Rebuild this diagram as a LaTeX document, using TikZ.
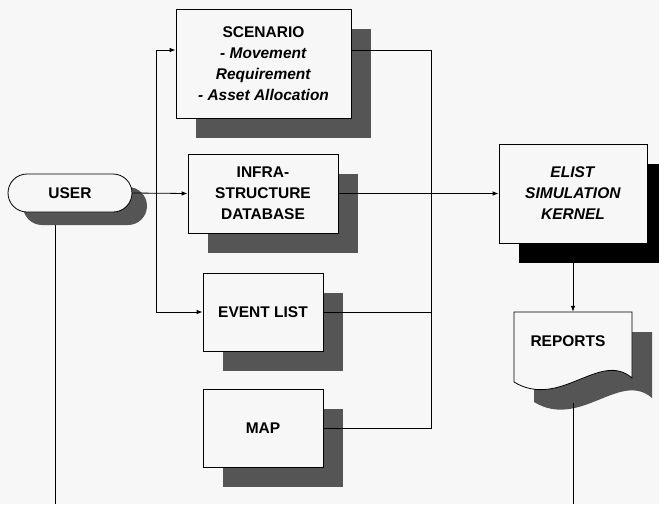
\documentclass[tikz,border=0pt]{standalone}
\usepackage{fontspec}
\setmainfont{Liberation Sans}
\usetikzlibrary{arrows.meta,shadows}
\definecolor{bg}{HTML}{F7F7F7}
\definecolor{shadowgray}{HTML}{555555}
\begin{document}
\begin{tikzpicture}[x=1pt,y=-1pt,
  every node/.style={font=\fontsize{15.5}{21}\selectfont\bfseries},
  box/.style={draw=black,line width=0.8pt,fill=bg,inner sep=0pt,align=center,
    general shadow={fill=shadowgray,shadow xshift=20pt,shadow yshift=-20pt}},
  blackbox/.style={draw=black,line width=0.8pt,fill=bg,inner sep=0pt,align=center,
    general shadow={fill=black,shadow xshift=20pt,shadow yshift=-20pt}},
  userbox/.style={draw=black,line width=0.8pt,fill=bg,inner sep=0pt,rounded corners=19pt,
    general shadow={fill=shadowgray,shadow xshift=15pt,shadow yshift=-13pt}},
  conn/.style={draw=black,line width=0.8pt},
  arr/.style={conn,-{Latex[length=6pt,width=4.5pt]}}]
\fill[bg] (0,0) rectangle (659,504);
\useasboundingbox (0,0) rectangle (659,504);

% nodes
\node[userbox,minimum width=124pt,minimum height=38pt] (user) at (70,193) {USER};
\node[box,minimum width=175pt,minimum height=109pt] (scen) at (263.5,63.5)
  {SCENARIO\\\textit{- Movement}\\\textit{Requirement}\\\textit{- Asset Allocation}};
\node[box,minimum width=150pt,minimum height=79pt] (infra) at (263,193.5)
  {INFRA-\\STRUCTURE\\DATABASE};
\node[box,minimum width=120pt,minimum height=78pt] (event) at (263,312) {EVENT LIST};
\node[box,minimum width=120pt,minimum height=78pt] (map) at (263,428) {MAP};
\node[blackbox,minimum width=148pt,minimum height=99pt] (elist) at (573,193.5)
  {\textit{ELIST}\\\textit{SIMULATION}\\\textit{KERNEL}};

% report document shape
\begin{scope}[shift={(20,20)}]
  \fill[shadowgray] (514,312) -- (632,312) -- (632,378) .. controls (600,350) and (560,410) .. (514,382) -- cycle;
\end{scope}
\filldraw[fill=bg,draw=black,line width=0.8pt] (514,312) -- (632,312) -- (632,378) .. controls (600,350) and (560,410) .. (514,382) -- cycle;
\node[inner sep=0pt,minimum width=118pt,minimum height=70pt] (reports) at (573,347) {};
\node at (568,341) {REPORTS};

% connectors
\coordinate (L) at (156,50);
\coordinate (R) at (431,50);
\coordinate (ub) at (55,504);
\coordinate (rb) at (573,504);
\draw[arr] (user.east) -- (infra.west);
\draw[arr] (L |- event.west) -- (L) -- (scen.west |- L);
\draw[arr] (L |- event.west) -- (event.west);
\draw[conn] (scen.east |- R) -- (R) -- (R |- map.east) -- (map.east);
\draw[conn] (event.east) -- (R |- event.east);
\draw[arr] (infra.east) -- (elist.west);
\draw[arr] (elist.south) -- (reports.north);
\draw[conn] ([yshift=-13pt]ub |- user.south) -- (ub);
\draw[conn] ([yshift=-21pt]reports.south) -- (rb);
\end{tikzpicture}
\end{document}
